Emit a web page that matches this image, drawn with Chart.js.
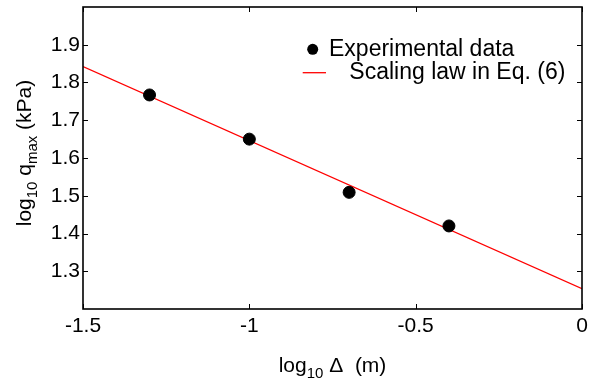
<!DOCTYPE html>
<html>
<head>
<meta charset="utf-8">
<script src="https://cdn.jsdelivr.net/npm/chart.js@4/dist/chart.umd.min.js"></script>
<style>
html,body{margin:0;padding:0;background:#fff;}
#wrap{width:589px;height:390px;position:relative;}
</style>
</head>
<body>
<div id="wrap"><canvas id="c" width="589" height="390"></canvas></div>
<script>
// ---- data ----
const expX = [-1.3, -1.0, -0.7, -0.4];
const expY = [1.767, 1.650, 1.509, 1.420];
const lawX = [-1.5, 0];
const lawY = [1.842, 1.254];
const xTickValues = [-1.5, -1, -0.5, 0];
const yTickValues = [1.3, 1.4, 1.5, 1.6, 1.7, 1.8, 1.9];
const seriesNames = ['Experimental data', 'Scaling law in Eq. (6)'];

const FONT = '"Liberation Sans", Arial, Helvetica, sans-serif';
const TICK_SIZE = 21;

const framePlugin = {
  id: 'frame',
  afterDraw(chart) {
    const {ctx, chartArea: a, scales} = chart;
    const xs = scales.x, ys = scales.y;
    ctx.save();
    // inward ticks on all four sides
    ctx.strokeStyle = '#000';
    ctx.lineWidth = 1;
    const L = 5;
    ctx.beginPath();
    xTickValues.forEach(v => {
      const px = Math.round(xs.getPixelForValue(v)) + 0.5;
      ctx.moveTo(px, a.bottom); ctx.lineTo(px, a.bottom - L);
      ctx.moveTo(px, a.top); ctx.lineTo(px, a.top + L);
    });
    yTickValues.forEach(v => {
      const py = Math.round(ys.getPixelForValue(v)) + 0.5;
      ctx.moveTo(a.left, py); ctx.lineTo(a.left + L, py);
      ctx.moveTo(a.right, py); ctx.lineTo(a.right - L, py);
    });
    ctx.stroke();
    // box
    ctx.lineWidth = 1.6;
    ctx.strokeRect(a.left, a.top, a.right - a.left, a.bottom - a.top);

    // axis titles with subscripts
    const big = TICK_SIZE + 'px ' + FONT;
    const small = '15px ' + FONT;
    ctx.fillStyle = '#000';
    ctx.textBaseline = 'alphabetic';
    function drawParts(parts, x0, y0) {
      let x = x0;
      parts.forEach(p => {
        ctx.font = p.sub ? small : big;
        ctx.fillText(p.t, x, y0 + (p.sub ? 6 : 0));
        x += ctx.measureText(p.t).width;
      });
      return x - x0;
    }
    function widthParts(parts) {
      let w = 0;
      parts.forEach(p => { ctx.font = p.sub ? small : big; w += ctx.measureText(p.t).width; });
      return w;
    }
    const xt = [{t:'log'},{t:'10',sub:true},{t:' \u0394  (m)'}];
    const cx = (a.left + a.right) / 2;
    ctx.textAlign = 'left';
    drawParts(xt, cx - widthParts(xt) / 2, 372);

    const yt = [{t:'log'},{t:'10',sub:true},{t:' q'},{t:'max',sub:true},{t:' (kPa)'}];
    ctx.save();
    ctx.translate(31, 153);
    ctx.rotate(-Math.PI / 2);
    drawParts(yt, -widthParts(yt) / 2, 0);
    ctx.restore();

    // legend
    const ds = chart.data.datasets;
    ctx.font = '23px ' + FONT;
    ctx.textBaseline = 'middle';
    ctx.beginPath();
    ctx.arc(312.7, 49.3, 5.5, 0, Math.PI * 2);
    ctx.fillStyle = '#000';
    ctx.fill();
    ctx.fillText(ds[0].label, 329, 50);
    ctx.strokeStyle = '#ff0000';
    ctx.lineWidth = 1.3;
    ctx.beginPath();
    ctx.moveTo(302.7, 72.7); ctx.lineTo(326, 72.7);
    ctx.stroke();
    ctx.fillStyle = '#000';
    ctx.fillText(ds[1].label, 349.3, 73);
    ctx.restore();
  }
};

new Chart(document.getElementById('c'), {
  type: 'scatter',
  data: {
    datasets: [
      {
        label: seriesNames[0],
        data: expX.map((x, i) => ({x, y: expY[i]})),
        backgroundColor: '#000',
        borderColor: '#000',
        pointRadius: 6,
        pointHoverRadius: 6,
        order: 0
      },
      {
        label: seriesNames[1],
        type: 'line',
        data: lawX.map((x, i) => ({x, y: lawY[i]})),
        borderColor: '#ff0000',
        borderWidth: 1.3,
        pointRadius: 0,
        fill: false,
        order: 1
      }
    ]
  },
  options: {
    responsive: false,
    animation: false,
    layout: {padding: {top: 5, right: 6, left: 0, bottom: 0}},
    plugins: {legend: {display: false}, tooltip: {enabled: false}},
    scales: {
      x: {
        type: 'linear',
        min: -1.5, max: 0,
        afterBuildTicks(s) { s.ticks = xTickValues.map(v => ({value: v})); },
        afterFit(s) { s.height = 81; s.paddingLeft = 0; s.paddingRight = 0; },
        grid: {display: false, drawTicks: false},
        border: {display: false},
        ticks: {
          color: '#000', padding: 5,
          font: {family: FONT, size: TICK_SIZE},
          callback: v => String(v)
        }
      },
      y: {
        type: 'linear',
        min: 1.2, max: 2.0,
        afterBuildTicks(s) { s.ticks = yTickValues.map(v => ({value: v})); },
        afterFit(s) { s.width = 83; s.paddingTop = 0; s.paddingBottom = 0; },
        grid: {display: false, drawTicks: false},
        border: {display: false},
        ticks: {
          color: '#000', padding: 3,
          font: {family: FONT, size: TICK_SIZE},
          callback: v => v.toFixed(1)
        }
      }
    }
  },
  plugins: [framePlugin]
});
</script>
</body>
</html>
